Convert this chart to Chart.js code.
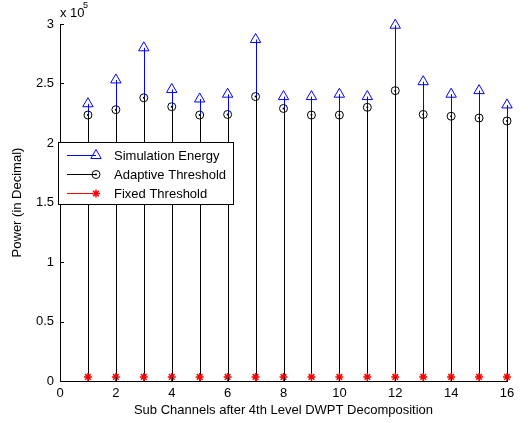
<!DOCTYPE html>
<html>
<head>
<meta charset="utf-8">
<script src="https://cdn.jsdelivr.net/npm/chart.js@4.4.1/dist/chart.umd.min.js"></script>
<style>
html, body { margin: 0; padding: 0; background: #fff; }
#wrap { width: 528px; height: 423px; }
</style>
</head>
<body>
<div id="wrap"><canvas id="stemChart" width="528" height="423"></canvas></div>
<script>
// values
const channels = [1, 2, 3, 4, 5, 6, 7, 8, 9, 10, 11, 12, 13, 14, 15, 16];
const simEnergy = [233000, 253000, 280000, 245000, 237000, 241000, 287000, 239000,
                   239000, 241000, 239000, 299000, 251500, 241000, 244000, 232000];
const adaptiveThr = [223500, 228000, 238000, 230500, 223500, 224000, 239000, 229000,
                     223500, 223500, 230000, 244000, 224000, 222500, 221000, 218500];
const fixedThr = [3400, 3400, 3400, 3400, 3400, 3400, 3400, 3400,
                  3400, 3400, 3400, 3400, 3400, 3400, 3400, 3400];
const xTicks = [0, 2, 4, 6, 8, 10, 12, 14, 16];
const yTicks = [0, 50000, 100000, 150000, 200000, 250000, 300000];
const seriesNames = ['Simulation Energy', 'Adaptive Threshold', 'Fixed Threshold'];

const FONT = '"Liberation Sans", Arial, Helvetica, sans-serif';
Chart.defaults.font.family = FONT;
Chart.defaults.font.size = 13;
Chart.defaults.color = '#000';

function pts(vals) {
  return channels.map((c, i) => ({ x: c, y: vals[i] }));
}

// vertical stems from zero up to each point
const stems = {
  id: 'stems',
  beforeDatasetsDraw(chart) {
    const { ctx, scales: { x, y } } = chart;
    const y0 = y.getPixelForValue(0);
    chart.data.datasets.forEach(ds => {
      if (!ds.stemColor) return;
      ctx.save();
      ctx.strokeStyle = ds.stemColor;
      ctx.lineWidth = 1;
      ctx.beginPath();
      ds.data.forEach(p => {
        const px = Math.round(x.getPixelForValue(p.x)) + 0.5;
        ctx.moveTo(px, y0);
        ctx.lineTo(px, y.getPixelForValue(p.y));
      });
      ctx.stroke();
      ctx.restore();
    });
  }
};

function marker(ctx, style, cx, cy, color) {
  ctx.save();
  ctx.strokeStyle = color;
  ctx.lineWidth = 1;
  if (style === 'triangle') {
    ctx.fillStyle = 'rgba(0,0,0,0)';
    Chart.helpers.drawPoint(ctx, { pointStyle: 'triangle', radius: 6, rotation: 0, borderWidth: 1 }, cx, cy);
  } else if (style === 'circledot') {
    ctx.fillStyle = color;
    ctx.beginPath(); ctx.arc(cx, cy, 4, 0, Math.PI * 2); ctx.stroke();
    ctx.beginPath(); ctx.arc(cx, cy, 1, 0, Math.PI * 2); ctx.fill();
  } else {
    ctx.lineWidth = 1.5;
    ctx.fillStyle = color;
    Chart.helpers.drawPoint(ctx, { pointStyle: 'star', radius: 4, rotation: 0, borderWidth: 1.5 }, cx, cy);
  }
  ctx.restore();
}

// inward ticks, exponent label and the boxed legend
const extras = {
  id: 'extras',
  afterDraw(chart) {
    const { ctx, chartArea: a, scales: { x, y } } = chart;
    ctx.save();
    ctx.strokeStyle = '#000';
    ctx.lineWidth = 1;
    ctx.beginPath();
    yTicks.forEach(v => {
      const py = Math.round(y.getPixelForValue(v)) + 0.5;
      ctx.moveTo(a.left, py); ctx.lineTo(a.left + 4, py);
    });
    xTicks.forEach(v => {
      const px = Math.round(x.getPixelForValue(v)) + 0.5;
      ctx.moveTo(px, a.bottom); ctx.lineTo(px, a.bottom - 4);
    });
    ctx.stroke();

    // x 10^5
    ctx.fillStyle = '#000';
    ctx.textBaseline = 'middle';
    ctx.textAlign = 'left';
    ctx.font = '13px ' + FONT;
    ctx.fillText('x 10', a.left, 13);
    ctx.font = '9px ' + FONT;
    ctx.fillText('5', a.left + 23, 6);

    // legend
    const bx = a.left - 1.5, by = 142.5, bw = 175, bh = 62;
    ctx.fillStyle = '#fff';
    ctx.fillRect(bx, by, bw, bh);
    ctx.strokeRect(bx, by, bw, bh);
    const rows = [
      { name: seriesNames[0], color: '#0000ff', style: 'triangle', yy: 155 },
      { name: seriesNames[1], color: '#000000', style: 'circledot', yy: 174 },
      { name: seriesNames[2], color: '#ff0000', style: 'star', yy: 193 }
    ];
    rows.forEach(r => {
      ctx.strokeStyle = r.color;
      ctx.lineWidth = 1;
      ctx.beginPath();
      ctx.moveTo(a.left + 7, r.yy + 0.5);
      ctx.lineTo(a.left + 36, r.yy + 0.5);
      ctx.stroke();
      marker(ctx, r.style, a.left + 36, r.yy + 0.5, r.color);
      ctx.fillStyle = '#000';
      ctx.font = '13px ' + FONT;
      ctx.fillText(r.name, a.left + 54, r.yy + 1);
    });
    ctx.restore();
  }
};

new Chart(document.getElementById('stemChart'), {
  type: 'scatter',
  data: {
    datasets: [
      {
        label: seriesNames[0], data: pts(simEnergy), stemColor: '#0000ff', clip: false,
        pointStyle: 'triangle', pointRadius: 6, borderColor: '#0000ff',
        backgroundColor: 'rgba(0,0,0,0)', borderWidth: 1, showLine: false
      },
      {
        label: seriesNames[1], data: pts(adaptiveThr), stemColor: '#000000', clip: false,
        pointStyle: 'circle', pointRadius: 4, borderColor: '#000',
        backgroundColor: 'rgba(0,0,0,0)', borderWidth: 1, showLine: false
      },
      {
        label: 'adaptive dot', data: pts(adaptiveThr), clip: false,
        pointStyle: 'circle', pointRadius: 1, borderColor: '#000',
        backgroundColor: '#000', borderWidth: 0, showLine: false
      },
      {
        label: seriesNames[2], data: pts(fixedThr), stemColor: '#ff0000', clip: false,
        pointStyle: 'star', pointRadius: 4, borderColor: '#ff0000',
        backgroundColor: '#ff0000', borderWidth: 1.5, showLine: false
      }
    ]
  },
  options: {
    responsive: false,
    animation: false,
    events: [],
    layout: { padding: { top: 24, right: 21, left: 0, bottom: 0 } },
    plugins: { legend: { display: false }, tooltip: { enabled: false } },
    scales: {
      x: {
        type: 'linear', min: 0, max: 16,
        afterBuildTicks: s => { s.ticks = xTicks.map(v => ({ value: v })); },
        afterFit: s => { s.height = 42; },
        grid: { display: false, drawTicks: false },
        border: { display: true, color: '#000', width: 1 },
        ticks: { padding: 5, maxRotation: 0, autoSkip: false, font: { size: 13 } },
        title: {
          display: true, text: 'Sub Channels after 4th Level DWPT Decomposition',
          font: { size: 13, lineHeight: 1.2 }, padding: { top: 0, bottom: 5 }
        }
      },
      y: {
        type: 'linear', min: 0, max: 300000,
        afterBuildTicks: s => { s.ticks = yTicks.map(v => ({ value: v })); },
        afterFit: s => { s.width = 60; },
        grid: { display: false, drawTicks: false },
        border: { display: true, color: '#000', width: 1 },
        ticks: { padding: 6, autoSkip: false, callback: v => String(v / 100000), font: { size: 13 } },
        title: {
          display: true, text: 'Power (in Decimal)',
          font: { size: 13, lineHeight: 1.2 }, padding: { top: 10, bottom: 0 }
        }
      }
    }
  },
  plugins: [stems, extras]
});
</script>
</body>
</html>
